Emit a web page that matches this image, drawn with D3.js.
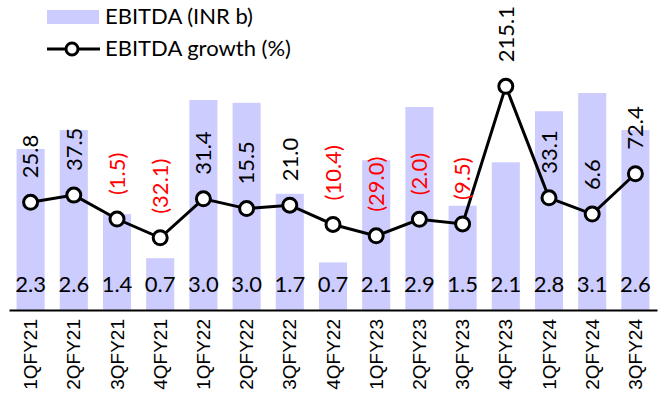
<!DOCTYPE html>
<html lang="en">
  <head>
    <meta charset="UTF-8" />
    <title>EBITDA chart</title>
    <script src="https://d3js.org/d3.v7.min.js"></script>
    <style>
      html,
      body {
        margin: 0;
        padding: 0;
        background-color: #ffffff;
        font-family: Lato, sans-serif;
      }
    </style>
  </head>
  <body>
    <svg id="chart"></svg>
    <script>
      // Data
      const quarters = [
        "1QFY21", "2QFY21", "3QFY21", "4QFY21", "1QFY22", "2QFY22", "3QFY22",
        "4QFY22", "1QFY23", "2QFY23", "3QFY23", "4QFY23", "1QFY24", "2QFY24",
        "3QFY24",
      ];
      const ebitda = [
        2.3, 2.57, 1.37, 0.74, 3.0, 2.96, 1.66, 0.68, 2.14, 2.9, 1.49, 2.11,
        2.84, 3.1, 2.57,
      ];
      const growth = [
        25.8, 37.5, -1.5, -32.1, 31.4, 15.5, 21.0, -10.4, -29.0, -2.0, -9.5,
        215.1, 33.1, 6.6, 72.4,
      ];

      const width = 668;
      const height = 408;

      const svg = d3
        .select("#chart")
        .attr("width", width)
        .attr("height", height);

      // Scales
      const x = d3
        .scaleBand()
        .domain(quarters)
        .range([9, 657])
        .paddingInner(0.35)
        .paddingOuter(0.175);

      const y = d3.scaleLinear().domain([0, 4]).range([310, 30]);
      const y2 = d3.scaleLinear().domain([-150, 307]).range([310, 30]);

      const fmt = (v) => (v < 0 ? `(${Math.abs(v).toFixed(1)})` : v.toFixed(1));

      // Bars
      svg
        .selectAll(".bar")
        .data(quarters)
        .enter()
        .append("rect")
        .attr("class", "bar")
        .attr("x", (d) => x(d))
        .attr("width", x.bandwidth())
        .attr("y", (d, i) => y(ebitda[i]))
        .attr("height", (d, i) => y(0) - y(ebitda[i]))
        .attr("fill", "#ccccff");

      // Bar value labels at the bottom
      svg
        .selectAll(".bar-label")
        .data(quarters)
        .enter()
        .append("text")
        .attr("class", "bar-label")
        .attr("x", (d) => x(d) + x.bandwidth() / 2)
        .attr("y", 292)
        .attr("text-anchor", "middle")
        .style("font-size", "22px")
        .style("fill", "#000")
        .text((d, i) => ebitda[i].toFixed(1));

      // X axis
      const xAxis = svg
        .append("g")
        .attr("class", "x-axis")
        .attr("transform", `translate(0,${y(0)})`)
        .call(d3.axisBottom(x).tickSize(0).tickSizeOuter(0));

      xAxis.select(".domain").attr("stroke", "#000").attr("stroke-width", 2);
      xAxis
        .selectAll("text")
        .attr("transform", "rotate(-90)")
        .attr("x", -9)
        .attr("y", 0)
        .attr("dy", "0.35em")
        .attr("text-anchor", "end")
        .style("font-family", "'Liberation Sans', Arial, sans-serif")
        .style("font-size", "19px")
        .style("fill", "#000");

      // Growth line
      const line = d3
        .line()
        .x((d, i) => x(quarters[i]) + x.bandwidth() / 2)
        .y((d) => y2(d));

      svg
        .append("path")
        .datum(growth)
        .attr("d", line)
        .attr("fill", "none")
        .attr("stroke", "#000")
        .attr("stroke-width", 3);

      svg
        .selectAll(".dot")
        .data(growth)
        .enter()
        .append("circle")
        .attr("class", "dot")
        .attr("cx", (d, i) => x(quarters[i]) + x.bandwidth() / 2)
        .attr("cy", (d) => y2(d))
        .attr("r", 7)
        .attr("fill", "#fff")
        .attr("stroke", "#000")
        .attr("stroke-width", 3);

      // Growth labels, rotated
      svg
        .selectAll(".growth-label")
        .data(growth)
        .enter()
        .append("text")
        .attr("class", "growth-label")
        .attr("transform", (d, i) => {
          const cx = x(quarters[i]) + x.bandwidth() / 2;
          return `translate(${cx},${y2(d) - 24}) rotate(-90)`;
        })
        .attr("dy", "0.35em")
        .attr("text-anchor", "start")
        .style("font-size", "22px")
        .style("fill", (d) => (d < 0 ? "#ff0000" : "#000"))
        .text((d) => fmt(d));

      // Legend
      const legend = svg.append("g").attr("class", "legend");

      legend
        .append("rect")
        .attr("x", 47)
        .attr("y", 10)
        .attr("width", 52)
        .attr("height", 14)
        .attr("fill", "#ccccff");

      legend
        .append("text")
        .attr("x", 105)
        .attr("y", 24)
        .style("font-size", "22px")
        .text("EBITDA (INR b)");

      legend
        .append("line")
        .attr("x1", 47)
        .attr("x2", 100)
        .attr("y1", 49)
        .attr("y2", 49)
        .attr("stroke", "#000")
        .attr("stroke-width", 3);

      legend
        .append("circle")
        .attr("cx", 72)
        .attr("cy", 49)
        .attr("r", 6)
        .attr("fill", "#fff")
        .attr("stroke", "#000")
        .attr("stroke-width", 3);

      legend
        .append("text")
        .attr("x", 105)
        .attr("y", 56)
        .style("font-size", "22px")
        .text("EBITDA growth (%)");
    </script>
  </body>
</html>
